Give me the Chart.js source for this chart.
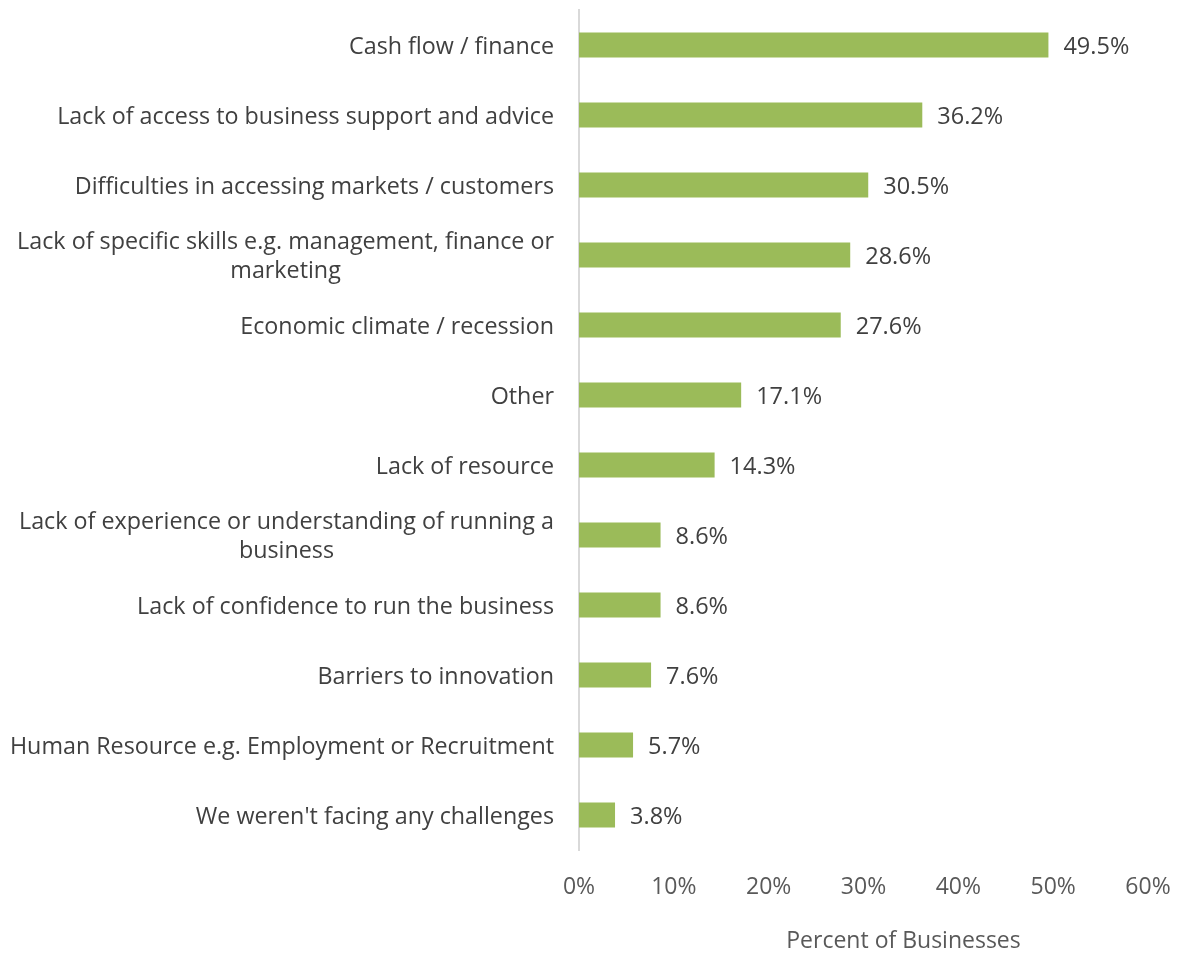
<!DOCTYPE html>
<html>
<head>
<meta charset="utf-8">
<script src="https://cdn.jsdelivr.net/npm/chart.js@4"></script>
<style>
  html, body { margin: 0; padding: 0; background: #fff; }
  #wrap { width: 1179px; height: 954px; }
</style>
</head>
<body>
<div id="wrap"><canvas id="challenges"></canvas></div>
<script>
const categories = [
  ['Cash flow / finance'],
  ['Lack of access to business support and advice'],
  ['Difficulties in accessing markets / customers'],
  ['Lack of specific skills e.g. management, finance or', 'marketing'],
  ['Economic climate / recession'],
  ['Other'],
  ['Lack of resource'],
  ['Lack of experience or understanding of running a', 'business'],
  ['Lack of confidence to run the business'],
  ['Barriers to innovation'],
  ['Human Resource e.g. Employment or Recruitment'],
  ["We weren't facing any challenges"]
];
const percentages = [49.5, 36.2, 30.5, 28.6, 27.6, 17.1, 14.3, 8.6, 8.6, 7.6, 5.7, 3.8];
const xTicks = [0, 10, 20, 30, 40, 50, 60];
const xTitle = 'Percent of Businesses';

const FONT = '"Open Sans", sans-serif';
const textColor = '#404040';
const axisColor = '#595959';

// category labels: block right-aligned to the axis, lines centred inside the block
const categoryLabels = {
  id: 'categoryLabels',
  afterDraw(chart) {
    const ctx = chart.ctx;
    const y = chart.scales.y;
    const rightEdge = y.right - 25;
    ctx.save();
    ctx.font = '23.3px ' + FONT;
    ctx.fillStyle = textColor;
    ctx.textBaseline = 'middle';
    ctx.textAlign = 'center';
    const lineH = 29;
    categories.forEach((lines, i) => {
      const cy = y.getPixelForValue(i) + 2;
      const w = Math.max(...lines.map(l => ctx.measureText(l).width));
      const cx = rightEdge - w / 2;
      const top = cy - (lines.length - 1) * lineH / 2;
      lines.forEach((l, k) => ctx.fillText(l, cx, top + k * lineH));
    });

    // axis title, sitting a bit right of the plot centre
    const x = chart.scales.x;
    ctx.font = '23px ' + FONT;
    ctx.fillStyle = axisColor;
    ctx.fillText(xTitle, (x.left + x.right) / 2 + 40, x.bottom - 13);
    ctx.restore();
  }
};

// value text just past the end of each bar
const valueLabels = {
  id: 'valueLabels',
  afterDatasetsDraw(chart) {
    const ctx = chart.ctx;
    const meta = chart.getDatasetMeta(0);
    ctx.save();
    ctx.font = '23.5px ' + FONT;
    ctx.fillStyle = textColor;
    ctx.textBaseline = 'middle';
    ctx.textAlign = 'left';
    meta.data.forEach((bar, i) => {
      ctx.fillText(percentages[i].toFixed(1) + '%', bar.x + 15, bar.y + 2);
    });
    ctx.restore();
  }
};

new Chart(document.getElementById('challenges'), {
  type: 'bar',
  data: {
    labels: categories.map(c => c.join(' ')),
    datasets: [{
      data: percentages,
      backgroundColor: '#9bbb59',
      barPercentage: 0.36,
      categoryPercentage: 1
    }]
  },
  options: {
    indexAxis: 'y',
    responsive: true,
    maintainAspectRatio: false,
    animation: false,
    layout: { padding: { top: 10, right: 31, left: 0, bottom: 0 } },
    plugins: {
      legend: { display: false },
      tooltip: { enabled: false }
    },
    scales: {
      x: {
        min: 0,
        max: 60,
        afterBuildTicks(scale) {
          scale.ticks = xTicks.map(v => ({ value: v }));
        },
        afterFit(scale) {
          scale.height = 104;
          scale.paddingLeft = 0;
          scale.paddingRight = 0;
        },
        grid: { display: false, drawTicks: false },
        border: { display: false },
        ticks: {
          color: axisColor,
          font: { family: FONT, size: 23 },
          padding: 24,
          maxRotation: 0,
          callback: v => v + '%'
        },
        title: { display: false }
      },
      y: {
        afterFit(scale) { scale.width = 579; },
        grid: { display: false, drawTicks: false },
        border: { display: true, color: '#d9d9d9', width: 2 },
        ticks: { display: false }
      }
    }
  },
  plugins: [categoryLabels, valueLabels]
});
</script>
</body>
</html>
